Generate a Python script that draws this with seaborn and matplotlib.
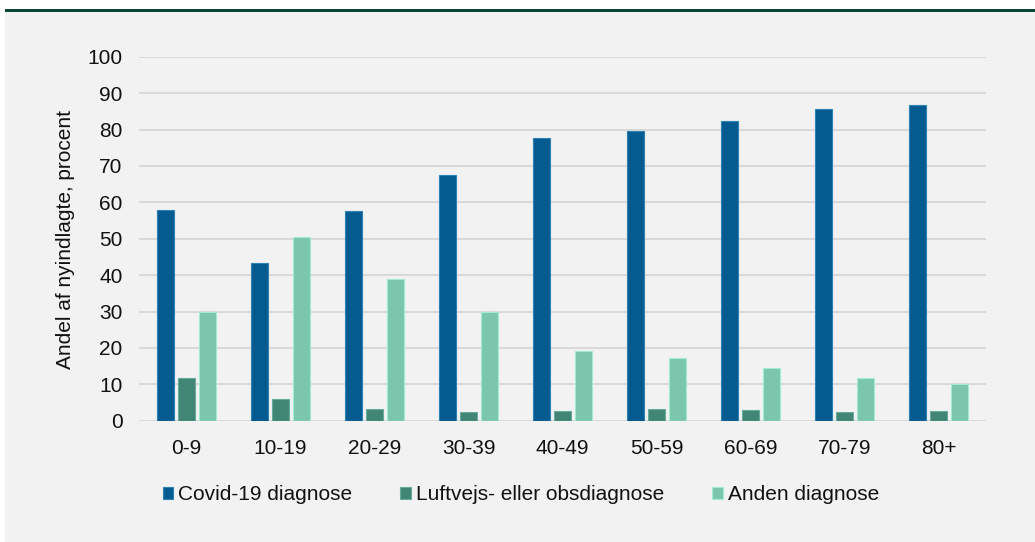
import matplotlib
matplotlib.use("Agg")
import matplotlib.pyplot as plt
from matplotlib.patches import Rectangle
import seaborn as sns
import pandas as pd

categories = ["0-9", "10-19", "20-29", "30-39", "40-49", "50-59", "60-69", "70-79", "80+"]
covid = [58.0, 43.3, 57.5, 67.4, 77.7, 79.6, 82.3, 85.6, 86.8]
luftvejs = [11.7, 5.9, 3.3, 2.4, 2.8, 3.1, 3.0, 2.3, 2.8]
anden = [29.9, 50.5, 38.9, 30.0, 19.2, 17.1, 14.4, 11.6, 10.1]
series_names = ["Covid-19 diagnose", "Luftvejs- eller obsdiagnose", "Anden diagnose"]
colors = ["#035b8f", "#418574", "#7cc6ae"]
ylabel = "Andel af nyindlagte, procent"

rows = []
for name, vals in zip(series_names, [covid, luftvejs, anden]):
    for c, v in zip(categories, vals):
        rows.append({"age": c, "value": v, "type": name})
df = pd.DataFrame(rows)

sns.set_theme(style="white")
plt.rcParams["font.family"] = ["Liberation Sans", "DejaVu Sans"]

FS = 15

fig = plt.figure(figsize=(10.35, 5.42), dpi=100, facecolor="white")
# gray panel and top rule
fig.patches.append(Rectangle((5 / 1035, 0), 1 - 5 / 1035, (542 - 12) / 542,
                             transform=fig.transFigure, facecolor="#f2f2f2",
                             edgecolor="none", zorder=-10))
fig.patches.append(Rectangle((5 / 1035, (542 - 12) / 542), 1 - 5 / 1035, 3 / 542,
                             transform=fig.transFigure, facecolor="#0a4538",
                             edgecolor="none", zorder=-10))

ax = fig.add_axes([139.3 / 1035, 1 - 420.7 / 542, (986 - 139.3) / 1035, (420.7 - 56.7) / 542])
ax.set_facecolor("none")

sns.barplot(data=df, x="age", y="value", hue="type", order=categories,
            hue_order=series_names, palette=colors, width=0.67, gap=0.19,
            ax=ax, errorbar=None, linewidth=0.8, saturation=1)
for p in ax.patches:
    fc = p.get_facecolor()
    ec = tuple(min(1, c + 0.15) for c in fc[:3])
    p.set_edgecolor(ec)

ax.set_xlim(-0.5, 8.5)
ax.set_ylim(0, 100)
ax.set_yticks(range(0, 101, 10))
ax.yaxis.grid(True, color="#d9d9d9", linewidth=1.4)
ax.set_axisbelow(True)
for s in ax.spines.values():
    s.set_visible(False)
ax.tick_params(axis="both", length=0, labelsize=FS, colors="#111111")
ax.tick_params(axis="x", pad=13)
ax.tick_params(axis="y", pad=12)
ax.set_xlabel("")
ax.set_ylabel(ylabel, fontsize=15, color="#111111")
ax.yaxis.set_label_coords(-(139.3 - 75) / (986 - 139.3), 0.5 - 1.0 / 364)

handles, labels = ax.get_legend_handles_labels()
if ax.legend_:
    ax.legend_.remove()
fig.legend(handles, labels, loc="center", bbox_to_anchor=(521 / 1035, 1 - 495 / 542),
           ncol=3, frameon=False, fontsize=FS, handlelength=0.5, handleheight=0.5,
           handletextpad=0.25, columnspacing=2.3, labelcolor="#111111")

fig.savefig("out.png", dpi=100, facecolor="white")
